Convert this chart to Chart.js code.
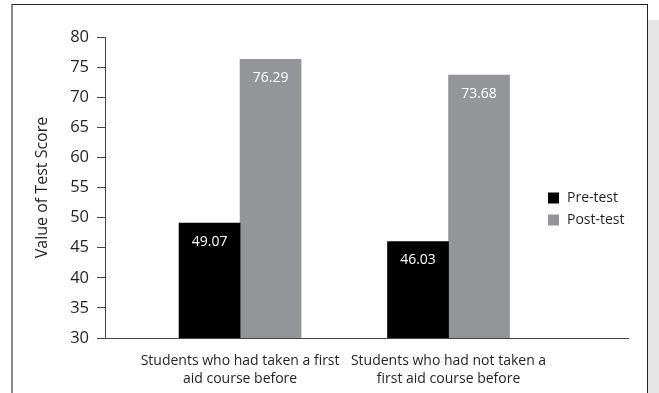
<!DOCTYPE html>
<html lang="en">
<head>
  <meta charset="UTF-8" />
  <title>First aid test scores</title>
  <script src="https://cdn.jsdelivr.net/npm/chart.js"></script>
  <style>
    html, body { margin: 0; padding: 0; background: #fff; }
    .wrap { position: relative; width: 659px; height: 393px; overflow: hidden; }
    .frame { position: absolute; left: 11px; top: 4px; width: 634px; height: 400px;
             border-top: 1px solid #222; border-right: 1px solid #222; border-left: 2px solid #8a8a8a; }
    .strip { position: absolute; left: 648px; top: 20px; width: 11px; height: 373px; background: #e6e6e7; }
    canvas { position: absolute; left: 0; top: 0; }
  </style>
</head>
<body>
  <div class="wrap">
    <div class="frame"></div>
    <div class="strip"></div>
    <canvas id="chart" width="659" height="393"></canvas>
  </div>

  <script>
    const categories = [
      ["Students who had taken a first", "aid course before"],
      ["Students who had not taken a", "first aid course before"]
    ];
    const seriesNames = ["Pre-test", "Post-test"];
    const preTest = [49.07, 46.03];
    const postTest = [76.29, 73.68];
    const yTicks = [30, 35, 40, 45, 50, 55, 60, 65, 70, 75, 80];

    const FONT = "'Open Sans', 'Noto Sans', sans-serif";
    const TEXT = '#231f20';

    // white value labels just inside the top of each bar
    const valueLabels = {
      id: 'valueLabels',
      afterDatasetsDraw(chart) {
        const ctx = chart.ctx;
        ctx.save();
        ctx.fillStyle = '#fff';
        ctx.font = '14px ' + FONT;
        ctx.textAlign = 'center';
        ctx.textBaseline = 'middle';
        chart.data.datasets.forEach((ds, i) => {
          chart.getDatasetMeta(i).data.forEach((bar, j) => {
            ctx.fillText(ds.data[j].y.toFixed(2), bar.x, bar.y + 19);
          });
        });
        ctx.restore();
      }
    };

    // legend sitting inside the plot, right of the bars
    const sideLegend = {
      id: 'sideLegend',
      afterDraw(chart) {
        const ctx = chart.ctx;
        ctx.save();
        ctx.font = '14px ' + FONT;
        ctx.textBaseline = 'middle';
        chart.data.datasets.forEach((ds, i) => {
          const y = 198 + i * 22;
          ctx.fillStyle = ds.backgroundColor;
          ctx.fillRect(548, y - 5.5, 11, 11);
          ctx.fillStyle = TEXT;
          ctx.fillText(ds.label, 567, y);
        });
        ctx.restore();
      }
    };

    const toPoints = arr => arr.map((v, i) => ({ x: i, y: v }));

    new Chart(document.getElementById('chart'), {
      type: 'bar',
      data: {
        datasets: [
          { label: seriesNames[0], data: toPoints(preTest), backgroundColor: '#000000', barThickness: 61 },
          { label: seriesNames[1], data: toPoints(postTest), backgroundColor: '#939598', barThickness: 61 }
        ]
      },
      options: {
        responsive: false,
        animation: false,
        layout: { padding: { left: 0, right: 31, top: 37, bottom: 0 } },
        plugins: { legend: { display: false }, tooltip: { enabled: false } },
        scales: {
          x: {
            type: 'linear',
            offset: false,
            min: -0.648,
            max: 1.861,
            grid: { display: false, offset: false },
            border: { display: true, color: '#444', width: 1 },
            afterBuildTicks: s => { s.ticks = categories.map((c, i) => ({ value: i })); },
            afterFit: s => { s.height = 55; },
            ticks: {
              autoSkip: false,
              maxRotation: 0,
              padding: 6,
              color: TEXT,
              font: { family: FONT, size: 14, lineHeight: 1.3 },
              callback: v => categories[v]
            }
          },
          y: {
            min: 30,
            max: 80,
            afterBuildTicks: s => { s.ticks = yTicks.map(v => ({ value: v })); },
            afterFit: s => { s.width = 105; },
            grid: { drawOnChartArea: false, tickLength: 8, color: '#444' },
            border: { display: true, color: '#444', width: 1 },
            ticks: { padding: 8, color: TEXT, font: { family: FONT, size: 16.5 } },
            title: {
              display: true,
              text: 'Value of Test Score',
              color: TEXT,
              font: { family: FONT, size: 16 },
              padding: { top: 33, bottom: 0 }
            }
          }
        }
      },
      plugins: [valueLabels, sideLegend]
    });
  </script>
</body>
</html>
